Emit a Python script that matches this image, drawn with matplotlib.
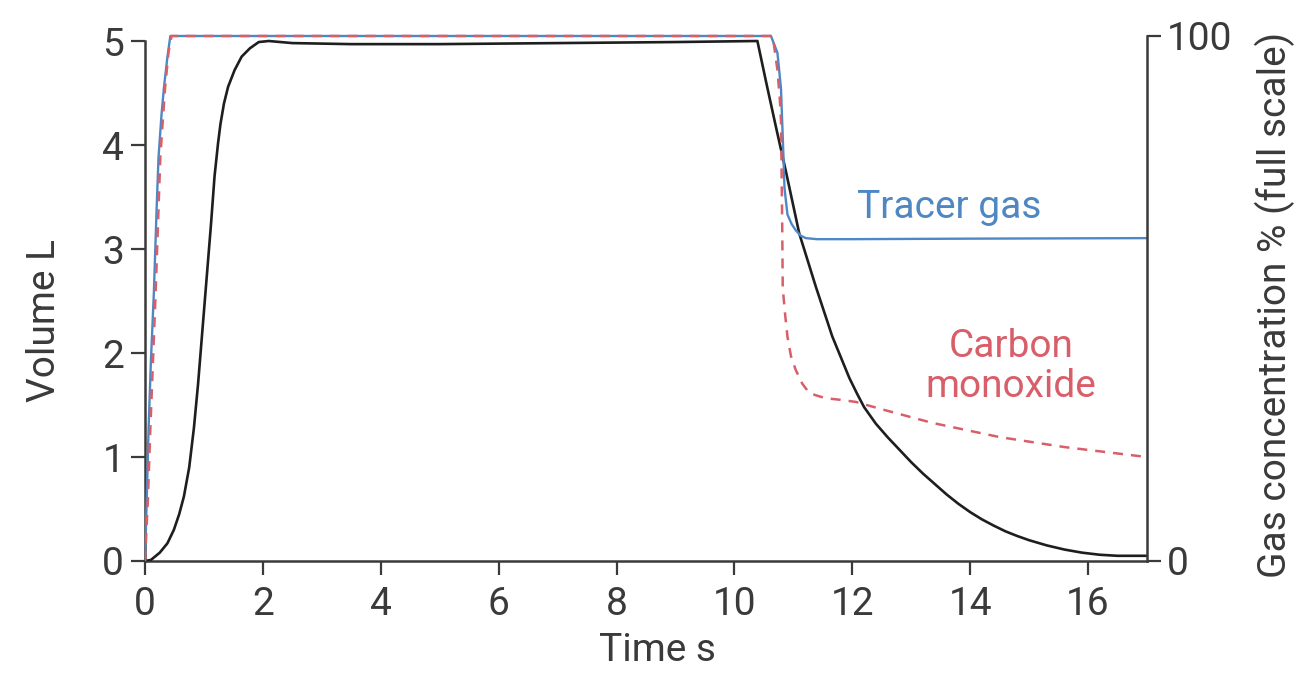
import matplotlib.pyplot as plt

plt.rcParams['font.family'] = ['Roboto', 'DejaVu Sans']

# spirometer volume (L) against time (s)
vol_t = [0, 0.1, 0.25, 0.38, 0.49, 0.58, 0.66, 0.75, 0.83, 0.9, 0.98, 1.05,
         1.12, 1.18, 1.24, 1.28, 1.34, 1.41, 1.52, 1.64, 1.78, 1.93, 2.1,
         2.5, 3.5, 5.0, 7.0, 9.0, 10.39, 10.54, 10.71, 10.88, 11.1, 11.38,
         11.66, 11.95, 12.08, 12.2, 12.4, 12.6, 12.8, 13.0, 13.2, 13.4, 13.6,
         13.8, 14.0, 14.2, 14.4, 14.6, 14.8, 15.0, 15.3, 15.6, 15.9, 16.2,
         16.5, 17.0]
vol_v = [0, 0.01, 0.08, 0.17, 0.3, 0.45, 0.62, 0.9, 1.28, 1.7, 2.26, 2.75,
         3.24, 3.7, 4.02, 4.2, 4.4, 4.56, 4.72, 4.85, 4.93, 4.99, 5.0,
         4.98, 4.97, 4.97, 4.98, 4.99, 5.0, 4.6, 4.16, 3.73, 3.15, 2.64,
         2.16, 1.76, 1.61, 1.48, 1.32, 1.19, 1.07, 0.95, 0.84, 0.74, 0.64,
         0.55, 0.47, 0.4, 0.34, 0.285, 0.24, 0.2, 0.15, 0.11, 0.08, 0.06,
         0.05, 0.05]

# tracer gas concentration, % of full scale
tracer_t = [0, 0.03, 0.06, 0.1, 0.15, 0.2, 0.23, 0.28, 0.32, 0.38, 0.43, 1.0,
            5.0, 10.62, 10.73, 10.79, 10.83, 10.85, 10.9, 10.97, 11.04, 11.12,
            11.21, 11.4, 12.0, 14.0, 17.0]
tracer_c = [0, 12, 25, 38, 51, 68, 77, 85, 90, 96, 100, 100,
            100, 100, 96.8, 90, 77.7, 71, 66, 64.2, 63, 62,
            61.5, 61.3, 61.3, 61.4, 61.5]

# carbon monoxide concentration, % of full scale
co_t = [0, 0.05, 0.09, 0.18, 0.26, 0.34, 0.4, 0.45, 1.0, 5.0, 10.65, 10.73,
        10.77, 10.79, 10.8, 10.81, 10.82, 10.86, 10.9, 10.96, 11.04, 11.15,
        11.27, 11.4, 11.55, 11.8, 12.06, 12.5, 13.36, 14.5, 15.6, 17.0]
co_c = [0, 12, 25, 51, 77, 90, 97, 100, 100, 100, 100, 93.5,
        88, 84, 74.5, 65, 52, 47, 42.7, 39, 36.4, 33.8,
        32, 31.5, 31, 30.7, 30.3, 28.9, 26.3, 23.6, 21.7, 19.8]

x_ticks = [0, 2, 4, 6, 8, 10, 12, 14, 16]
vol_ticks = [0, 1, 2, 3, 4, 5]
conc_ticks = [0, 100]

axis_col = '#3a3a3a'
blue = '#4f87c2'
red = '#d85f69'

fig = plt.figure(figsize=(13.07, 6.75), dpi=100)
ax = fig.add_axes([0.11094, 0.16889, 0.76664, 0.78222])
ax2 = ax.twinx()

ax.plot(vol_t, vol_v, color='#1e1e1e', lw=1.9, zorder=5)
ax2.plot(tracer_t, tracer_c, color=blue, lw=1.7, zorder=2)
ax2.plot(co_t, co_c, color=red, lw=1.8, dashes=(4.0, 3.2), zorder=3)

ax.set_xlim(0, 17)
ax.set_ylim(0, 5.077)
ax2.set_ylim(0, 100.57)

ax.set_xticks(x_ticks)
ax.set_yticks(vol_ticks)
ax2.set_yticks(conc_ticks)

for a in (ax, ax2):
    a.spines['top'].set_visible(False)
    a.tick_params(colors=axis_col, labelsize=28, length=10, width=1.6)
    for s in a.spines.values():
        s.set_color(axis_col)
        s.set_linewidth(1.8)
ax.spines['right'].set_visible(False)
ax.spines['left'].set_bounds(0, 5)
ax2.spines['left'].set_visible(False)
ax2.spines['bottom'].set_visible(False)
ax2.spines['right'].set_bounds(0, 100)
ax.tick_params(axis='x', pad=8)
ax.tick_params(axis='y', pad=5)
ax2.tick_params(axis='y', pad=4)

ax.set_xlabel('Time s', fontsize=28, color=axis_col)
ax.set_ylabel('Volume L', fontsize=28, color=axis_col)
ax2.set_ylabel('Gas concentration % (full scale)', fontsize=28, color=axis_col)
ax.xaxis.set_label_coords(0.511, -0.169)
ax.yaxis.set_label_coords(-0.0998, 0.456)
ax2.yaxis.set_label_coords(1.128, 0.485)
ax.xaxis.label.set_va('center')
ax.yaxis.label.set_va('center')
ax2.yaxis.label.set_va('center')

ax2.text(13.64, 67.4, 'Tracer gas', color=blue, fontsize=28,
         ha='center', va='center')
ax2.text(14.69, 37.0, 'Carbon\nmonoxide', color=red, fontsize=28,
         ha='center', va='center', linespacing=1.1)

fig.savefig('out.png', dpi=100)
